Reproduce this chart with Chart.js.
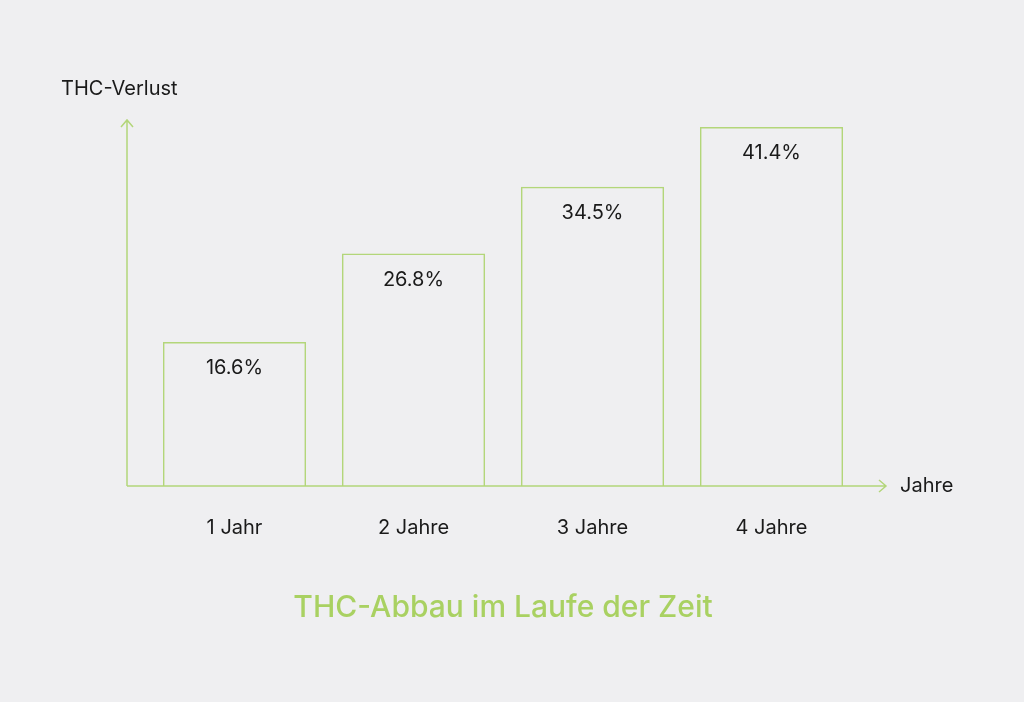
<!DOCTYPE html>
<html><head><meta charset="utf-8">
<script src="https://cdn.jsdelivr.net/npm/chart.js@4"></script>
<style>html,body{margin:0;padding:0;background:#efeff1;}#w{position:absolute;left:0;top:0;width:1024px;height:702px;}</style>
</head><body><div id="w"><canvas id="c" width="1024" height="702"></canvas></div>
<script>
const categories = ["1 Jahr","2 Jahre","3 Jahre","4 Jahre"];
const values = [16.6, 26.8, 34.5, 41.4];
const valueLabels = ["16.6%","26.8%","34.5%","41.4%"];
const yTitle = "THC-Verlust";
const xTitle = "Jahre";
const chartTitle = "THC-Abbau im Laufe der Zeit";
const GREEN = "#b3d67a";
const TITLE_GREEN = "#a9d162";
const FONT = "Inter, 'Noto Sans', sans-serif";

const deco = {
  id: 'deco',
  afterDraw(chart) {
    const ctx = chart.ctx, a = chart.chartArea;
    const x0 = a.left - 18, y0 = a.bottom;
    ctx.save();
    ctx.strokeStyle = GREEN; ctx.lineWidth = 1.5;
    ctx.beginPath();
    ctx.moveTo(x0, y0); ctx.lineTo(x0, a.top);
    ctx.moveTo(x0 - 6, a.top + 7); ctx.lineTo(x0, a.top); ctx.lineTo(x0 + 6, a.top + 7);
    ctx.moveTo(x0, y0); ctx.lineTo(a.right + 25, y0);
    ctx.moveTo(a.right + 18, y0 - 6); ctx.lineTo(a.right + 25, y0); ctx.lineTo(a.right + 18, y0 + 6);
    ctx.stroke();
    ctx.fillStyle = "#1a1a1a";
    ctx.font = "20px " + FONT;
    ctx.textBaseline = "middle";
    ctx.textAlign = "left";
    ctx.fillText(yTitle, 61, 89);
    ctx.fillText(xTitle, a.right + 39, y0);
    ctx.textAlign = "center";
    const meta = chart.getDatasetMeta(0);
    meta.data.forEach((b, i) => {
      ctx.fillText(valueLabels[i], b.x, b.y + 26);
      ctx.fillText(categories[i], b.x, y0 + 42);
    });
    ctx.fillStyle = TITLE_GREEN;
    ctx.font = "500 30px " + FONT;
    ctx.fillText(chartTitle, 503, 608);
    ctx.restore();
  }
};

new Chart(document.getElementById('c'), {
  type: 'bar',
  data: { labels: categories, datasets: [{ data: values, backgroundColor: 'rgba(0,0,0,0)', borderColor: GREEN, borderWidth: 1.5, categoryPercentage: 0.8, barPercentage: 1.0 }] },
  options: {
    responsive: false, animation: false,
    layout: { padding: { left: 145, right: 163, top: 120, bottom: 216 } },
    plugins: { legend: { display: false }, tooltip: { enabled: false } },
    scales: {
      x: { display: false },
      y: { display: false, min: 0, max: 42.2 }
    }
  },
  plugins: [deco]
});
</script></body></html>
